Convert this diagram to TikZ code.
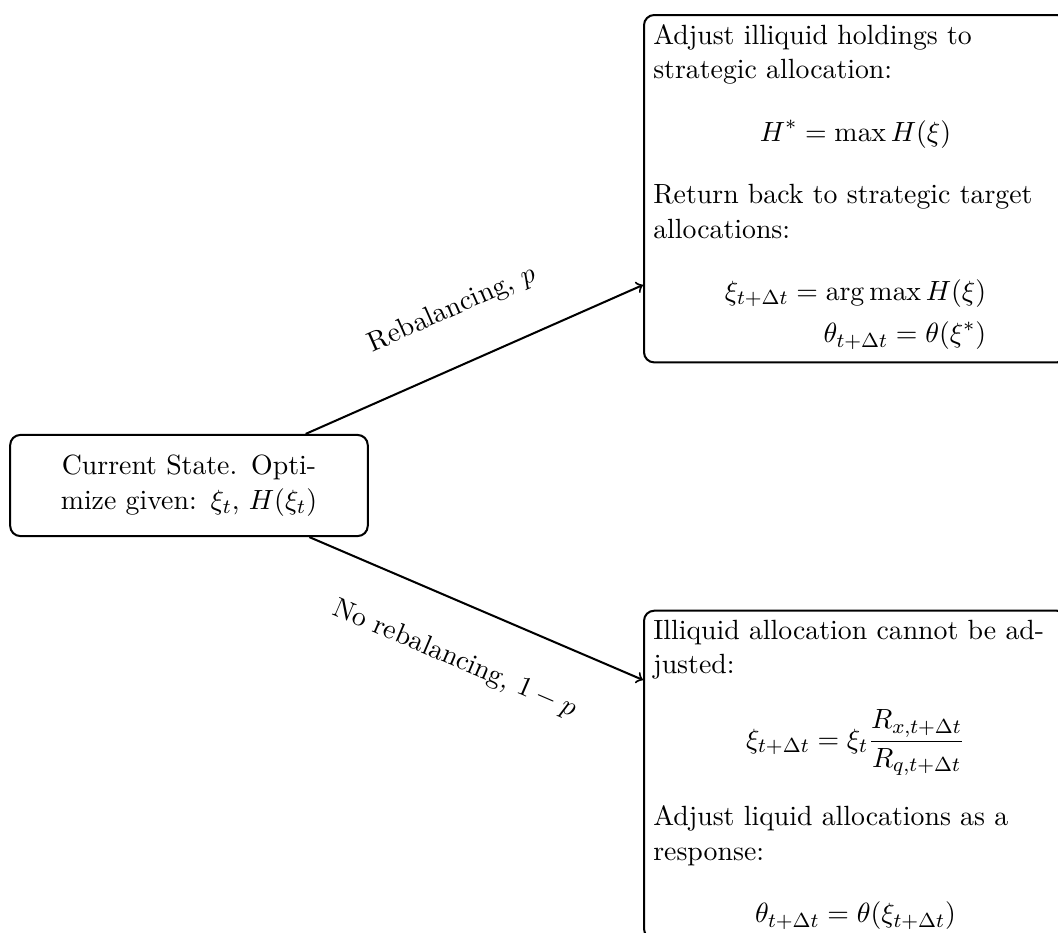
\documentclass[11pt,tikz,border=0pt]{standalone}
\usepackage{amsmath}

\tikzset{
    statebox/.style={draw, thick, rounded corners, align=center, text width=4cm, minimum width=4.95cm, minimum height=1.4cm},
    outcomebox/.style={draw, thick, rounded corners, align=left, text width=5.6cm, anchor=north west}
}

\begin{document}
\begin{tikzpicture}

    % Page frame (the right-hand boxes run past it)
    \useasboundingbox (0,0) rectangle (14.646,-12.915);
    \clip (0,0) rectangle (14.646,-12.915);

    % Current state
    \node[statebox] (cur) at (2.616,-6.721) {Current State. Optimize given: $\xi_t$, $H(\xi_t)$};

    % Rebalancing outcome
    \node[outcomebox] (reb) at (8.901,-0.194) {Adjust illiquid holdings to strategic allocation:
        \[ H^* = \max H(\xi) \]
        Return back to strategic target allocations:
        \begin{align*}
            \xi_{t+\Delta t} = \arg\max H(\xi) \\
            \theta_{t+\Delta t} = \theta(\xi^*)
        \end{align*}};

    % No rebalancing outcome
    \node[outcomebox] (nreb) at (8.901,-8.44) {Illiquid allocation cannot be adjusted:
        \[ \xi_{t+\Delta t} = \xi_t \frac{R_{x,t+\Delta t}}{R_{q,t+\Delta t}} \]
        Adjust liquid allocations as a response:
        \[ \theta_{t+\Delta t} = \theta(\xi_{t+\Delta t}) \]};

    % Arrow ends on the boxes
    \coordinate (rebin) at (8.901,-3.945);
    \coordinate (nrebin) at (8.901,-9.413);

    % Transitions
    \draw[->, thick] (cur) -- (rebin) node[midway, sloped, above=4.4mm] {Rebalancing, $p$};
    \draw[->, thick] (cur) -- (nrebin) node[midway, sloped, below=4.5mm] {No rebalancing, $1-p$};

\end{tikzpicture}
\end{document}
